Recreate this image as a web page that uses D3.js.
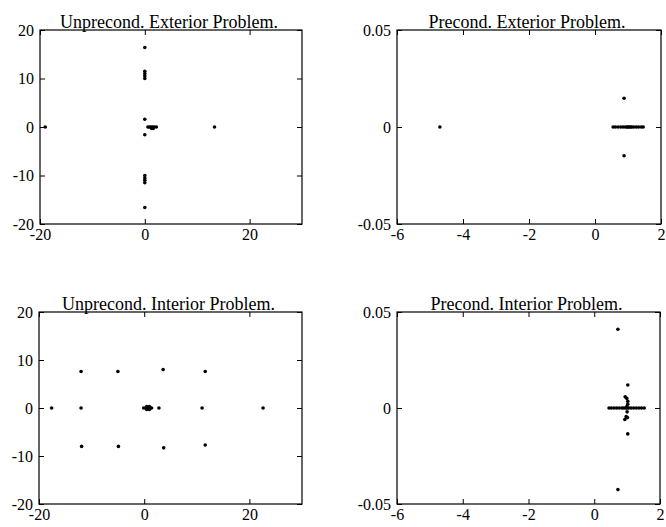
<!DOCTYPE html>
<html>
<head>
<meta charset="utf-8">
<script src="https://cdn.jsdelivr.net/npm/d3@7"></script>
<style>
  body { margin: 0; background: #fff; }
  svg { display: block; font-family: "Liberation Serif", "DejaVu Serif", serif; }
</style>
</head>
<body>
<svg id="chart"></svg>
<script>
const unprecExterior = [
  [-19, 0], [13.3, 0],
  [0, 16.4], [0, 11.5], [0, 11], [0, 10.5], [0, 10], [0, 1.6],
  [0, -1.6], [0, -10], [0, -10.5], [0, -11], [0, -11.5], [0, -16.6],
  [0.6, 0], [0.9, 0], [1.2, 0], [1.5, 0], [1.8, 0], [2.2, 0], [1.3, -0.3], [1.6, -0.3]
];
const precExterior = [
  [-4.7, 0],
  [0.55, 0], [0.62, 0], [0.7, 0], [0.78, 0], [0.85, 0], [0.92, 0], [0.97, 0], [1.0, 0],
  [1.04, 0], [1.08, 0], [1.12, 0], [1.18, 0], [1.25, 0], [1.32, 0], [1.4, 0], [1.46, 0],
  [0.88, 0.0148], [0.88, -0.0148]
];
const unprecInterior = [
  [-17.6, 0], [-12, 0], [2.8, 0], [11, 0], [22.6, 0],
  [-0.1, 0], [0.3, 0], [0.7, 0], [1.1, 0], [1.4, 0], [0.5, 0.3], [0.5, -0.3], [1, 0.3], [1, -0.3],
  [-12, 7.6], [-5, 7.6], [3.6, 8], [11.6, 7.6],
  [-11.9, -8], [-4.9, -8], [3.7, -8.3], [11.6, -7.7]
];
const precInterior = [
  [0.72, 0.041], [0.72, -0.0425], [1.02, 0.012], [1.02, -0.0135],
  [0.45, 0], [0.52, 0], [0.6, 0], [0.68, 0], [0.76, 0], [0.84, 0], [0.9, 0], [0.96, 0],
  [1.0, 0], [1.05, 0], [1.12, 0], [1.2, 0], [1.28, 0], [1.36, 0], [1.44, 0], [1.52, 0],
  [0.94, 0.0058], [0.99, 0.005], [1.02, 0.0035], [1.02, 0.002], [0.99, 0.0008],
  [1.0, -0.002], [0.97, -0.0045], [0.93, -0.006], [1.01, -0.005]
];

const titles = ["Unprecond. Exterior Problem.", "Precond. Exterior Problem.",
                "Unprecond. Interior Problem.", "Precond. Interior Problem."];
const xTicksUnprec = [-20, 0, 20];
const yTicksUnprec = [-20, -10, 0, 10, 20];
const xTicksPrec = [-6, -4, -2, 0, 2];
const yTicksPrec = [-0.05, 0, 0.05];

const width = 666, height = 527;
const svg = d3.select("#chart").attr("width", width).attr("height", height);

// panel boxes: left, right, top, bottom (px)
const panels = [
  {box: [40, 302, 30, 224], data: unprecExterior, xd: [-20, 30], yd: [-20, 20], xt: xTicksUnprec, yt: yTicksUnprec},
  {box: [397, 661, 30, 224], data: precExterior, xd: [-6, 2], yd: [-0.05, 0.05], xt: xTicksPrec, yt: yTicksPrec},
  {box: [39, 302, 312, 504], data: unprecInterior, xd: [-20, 30], yd: [-20, 20], xt: xTicksUnprec, yt: yTicksUnprec},
  {box: [397, 660, 312, 504], data: precInterior, xd: [-6, 2], yd: [-0.05, 0.05], xt: xTicksPrec, yt: yTicksPrec}
];

panels.forEach((p, i) => {
  const [l, r, t, b] = p.box;
  const x = d3.scaleLinear(p.xd, [l, r]);
  const y = d3.scaleLinear(p.yd, [b, t]);
  const fmt = d => String(d);
  const g = svg.append("g");

  // bottom axis with labels, ticks pointing in
  g.append("g")
    .attr("transform", `translate(0,${b})`)
    .call(d3.axisBottom(x).tickValues(p.xt).tickFormat(fmt).tickSize(-5).tickPadding(5))
    .call(a => a.select(".domain").remove());
  // left axis with labels
  g.append("g")
    .attr("transform", `translate(${l},0)`)
    .call(d3.axisLeft(y).tickValues(p.yt).tickFormat(fmt).tickSize(-5).tickPadding(6))
    .call(a => a.select(".domain").remove());
  // top / right mirror ticks
  g.append("g")
    .attr("transform", `translate(0,${t})`)
    .call(d3.axisTop(x).tickValues(p.xt).tickFormat("").tickSize(-5))
    .call(a => a.select(".domain").remove());
  g.append("g")
    .attr("transform", `translate(${r},0)`)
    .call(d3.axisRight(y).tickValues(p.yt).tickFormat("").tickSize(-5))
    .call(a => a.select(".domain").remove());

  g.selectAll(".tick text")
    .attr("font-family", "Liberation Serif, serif")
    .attr("font-size", 16)
    .attr("fill", "#000");
  g.selectAll(".tick line").attr("stroke", "#000");

  g.append("rect")
    .attr("x", l).attr("y", t)
    .attr("width", r - l).attr("height", b - t)
    .attr("fill", "none").attr("stroke", "#000").attr("stroke-width", 1.2);

  g.append("g")
    .selectAll("circle")
    .data(p.data)
    .join("circle")
      .attr("cx", d => x(d[0]))
      .attr("cy", d => y(d[1]))
      .attr("r", 1.8)
      .attr("fill", "#000");

  g.append("text")
    .attr("x", (l + r) / 2 - 2)
    .attr("y", t - 2)
    .attr("text-anchor", "middle")
    .attr("font-size", 18)
    .attr("fill", "#000")
    .text(titles[i]);
});
</script>
</body>
</html>
